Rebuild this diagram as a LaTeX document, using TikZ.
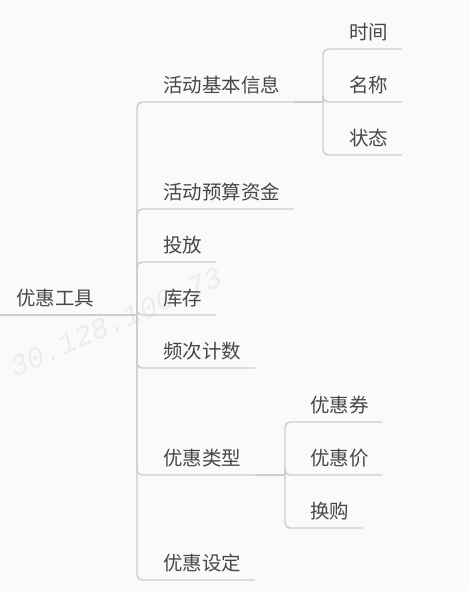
\documentclass[tikz,border=0pt]{standalone}
\usepackage{fontspec}
\setmainfont{Noto Sans CJK SC}
\newfontfamily\wmfont{Liberation Mono}
\definecolor{bgcol}{HTML}{FAFAFA}
\definecolor{linecol}{HTML}{CDCDCD}
\definecolor{textcol}{HTML}{474747}
\definecolor{wmcol}{HTML}{ECECEC}

\tikzset{every picture/.style={line width=0.75pt}}
\tikzset{
  topic/.style={anchor=south west, inner xsep=9.75pt, inner ysep=5.25pt,
    text height=0.88em, text depth=0.12em, text=textcol,
    font=\fontsize{14.6}{16}\selectfont},
  link/.style={draw=linecol, line width=1.1pt, rounded corners=3.8pt},
  wm/.style={rotate=24, text=wmcol, inner sep=0pt,
    font=\wmfont\itshape\fontsize{22}{22}\selectfont},
}

\begin{document}
\begin{tikzpicture}[x=0.75pt,y=0.75pt,yscale=-1,xscale=1]
    \useasboundingbox (0,0) rectangle (469,591);
    \fill[bgcol] (0,0) rectangle (469,591);

    % Watermark
    \node[wm] (ip) at (116,322) {30.128.100.73};

    % Root
    \node[topic, inner xsep=12pt] (root) at (0,315) {优惠工具};
    \coordinate (fork) at (137,315);
    \coordinate (infofork) at (323,102);
    \coordinate (typefork) at (285,475);

    % Text Node
    \node[topic] (info) at (150,102) {活动基本信息};
    % Text Node
    \node[topic] (budget) at (150,209) {活动预算资金};
    % Text Node
    \node[topic] (launch) at (150,262) {投放};
    % Text Node
    \node[topic] (stock) at (150,315) {库存};
    % Text Node
    \node[topic] (freq) at (150,368) {频次计数};
    % Text Node
    \node[topic] (kind) at (150,475) {优惠类型};
    % Text Node
    \node[topic] (setting) at (150,580) {优惠设定};

    % Text Node
    \node[topic] (time) at (336,49) {时间};
    % Text Node
    \node[topic] (name) at (336,102) {名称};
    % Text Node
    \node[topic] (state) at (336,155) {状态};

    % Text Node
    \node[topic] (coupon) at (297,422) {优惠券};
    % Text Node
    \node[topic] (price) at (297,475) {优惠价};
    % Text Node
    \node[topic] (swap) at (297,528) {换购};

    % Connectors
    \draw[link] (root.south west) -- (fork);
    \foreach \n in {info,budget,launch,stock,freq,kind,setting}
      \draw[link] (fork) |- (\n.south east);
    \draw[link] (info.south east) -- (infofork);
    \foreach \n in {time,name,state}
      \draw[link] (infofork) |- (\n.south east);
    \draw[link] (kind.south east) -- (typefork);
    \foreach \n in {coupon,price,swap}
      \draw[link] (typefork) |- (\n.south east);

\end{tikzpicture}
\end{document}
